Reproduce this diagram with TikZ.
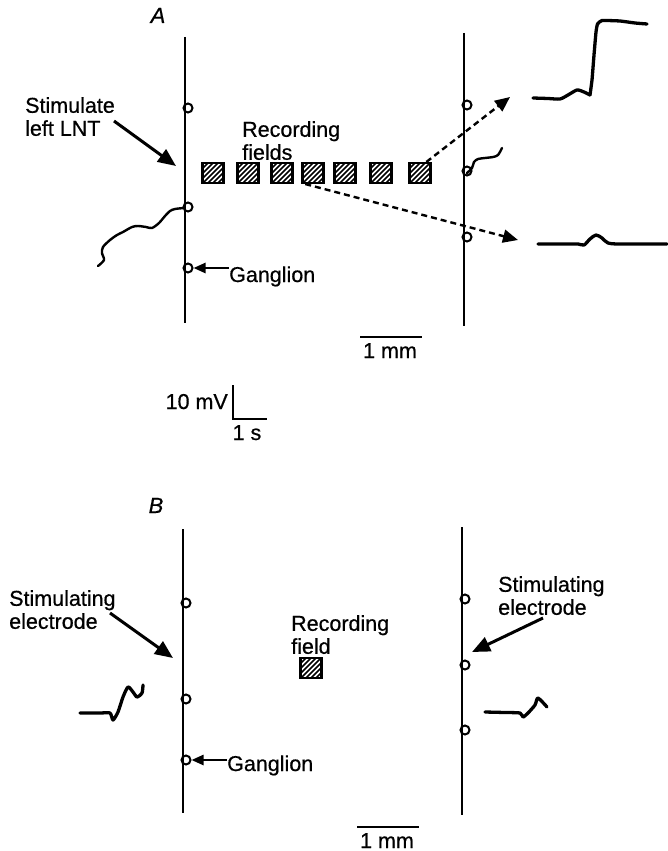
\documentclass[tikz,border=0pt]{standalone}
\usepackage{fontspec}
\setmainfont{Liberation Sans}[FakeBold=0.6]
\usetikzlibrary{arrows.meta}
\begin{document}
\begin{tikzpicture}[x=1pt,y=-1pt,
  lbl/.style={inner sep=0pt, align=left, font=\fontsize{21.5}{23}\selectfont},
  panel/.style={inner sep=0pt, font=\fontsize{22}{24}\selectfont\itshape},
  nerve/.style={line width=2.4pt},
  elec/.style={circle, draw, line width=2pt, minimum size=9pt, inner sep=0pt},
  field/.style={draw, line width=2.1pt, minimum width=21pt, minimum height=20pt, inner sep=0pt,
    path picture={\begin{scope}[shift={(path picture bounding box.center)}]
      \foreach \k in {-25,-20,...,25}{\draw[line width=1.5pt] ({\k-12},12) -- ({\k+12},-12);}
    \end{scope}}},
  bigarrow/.style={line width=3pt, -{Triangle[length=18pt,width=15pt]}},
  smallarrow/.style={line width=2.4pt, -{Triangle[length=12pt,width=10pt]}},
  dasharrow/.style={line width=2.4pt, dash pattern=on 6pt off 4pt, -{Triangle[length=15pt,width=13pt]}},
  trace/.style={line width=3.3pt, line join=round, line cap=round},
  scalebar/.style={line width=2.4pt},
]
\useasboundingbox (0,0) rectangle (667,851);

% ---------------- Panel A ----------------
\node[panel, anchor=base] (labA) at (158,23) {A};

\coordinate (LAt) at (185,37); \coordinate (LAb) at (185,323);
\draw[nerve] (LAt) -- (LAb);
\node[elec] (a1) at (188,108) {};
\node[elec] (a2) at (188,207) {};
\node[elec] (a3) at (188,268) {};

\coordinate (RAt) at (464,33); \coordinate (RAb) at (464,326);
\draw[nerve] (RAt) -- (RAb);
\node[elec] (b1) at (467,105) {};
\node[elec] (b2) at (467,171) {};
\node[elec] (b3) at (467,237) {};

\node[lbl, anchor=north west] (stimA) at (25,97) {Stimulate\\left LNT};
\coordinate (sAs) at (114,121); \coordinate (sAe) at (176,166);
\draw[bigarrow] (sAs) -- (sAe);

\node[lbl, anchor=north west] (recA) at (242,121) {Recording\\fields};
\node[field] (f1) at (213,173) {};
\node[field] (f2) at (248,173) {};
\node[field] (f3) at (282,173) {};
\node[field] (f4) at (313,173) {};
\node[field] (f5) at (345,173) {};
\node[field] (f6) at (381,173) {};
\node[field] (f7) at (420,173) {};

\coordinate (tA1) at (510,97); \coordinate (tA2) at (518,240);
\draw[dasharrow] (f7.60) -- (tA1);
\draw[dasharrow] (f4.235) -- (tA2);

\node[lbl, anchor=base west] (gA) at (229,282) {Ganglion};
\draw[smallarrow] (gA.west |- a3) -- (a3);

% traces A
\draw[trace] plot[smooth, tension=0.4] coordinates {(533,98) (548,98.5) (560,99) (568,95) (577,90) (584,92) (590,95)};
\draw[trace] plot[smooth, tension=0.25] coordinates {(590,95) (592,80) (594,55) (596,32) (597.5,24) (602,20.5) (620,21) (635,23) (647,24)};
\draw[trace] plot[smooth, tension=0.5] coordinates {(538,244) (560,244) (578,244) (584,245) (590,239) (596,235) (602,238) (608,243) (620,244) (667,244)};
\draw[trace, line width=2.4pt] plot[smooth, tension=0.5] coordinates {(467,173) (472,168) (474,162) (478,159) (485,158) (493,157) (498,155) (502,148)};
\draw[trace, line width=2.4pt] plot[smooth, tension=0.5] coordinates {(184,208) (175,209) (170,211) (165,216) (159,223) (152,228) (146,227) (138,226) (132,227) (123,232) (117,235) (110,240) (103,247) (102,253) (104,260) (98,266)};

% scale bars A
\coordinate (mA1) at (360,337); \coordinate (mA2) at (422,337);
\draw[scalebar] (mA1) -- (mA2);
\node[lbl, anchor=base] (mmA) at (390,358) {1 mm};

\node[lbl, anchor=base east] (mv) at (228,409) {10 mV};
\node[lbl, anchor=base] (sec) at (247,440) {1 s};
\coordinate (v1) at (233,385); \coordinate (v2) at (233,419); \coordinate (v3) at (267,419);
\draw[scalebar] (v1) -- (v2) -- (v3);

% ---------------- Panel B ----------------
\node[panel, anchor=base] (labB) at (156,513) {B};

\coordinate (LBt) at (183,529); \coordinate (LBb) at (183,813);
\draw[nerve] (LBt) -- (LBb);
\node[elec] (c1) at (186,603) {};
\node[elec] (c2) at (186,699) {};
\node[elec] (c3) at (186,760) {};

\coordinate (RBt) at (462,527); \coordinate (RBb) at (462,815);
\draw[nerve] (RBt) -- (RBb);
\node[elec] (d1) at (465,599) {};
\node[elec] (d2) at (465,665) {};
\node[elec] (d3) at (465,730) {};

\node[lbl, anchor=north west] (stimBL) at (9,590) {Stimulating\\electrode};
\coordinate (sBs) at (110,613); \coordinate (sBe) at (173,658);
\draw[bigarrow] (sBs) -- (sBe);

\node[lbl, anchor=north west] (recB) at (291,615) {Recording\\field};
\node[field] (fB) at (311,668) {};

\node[lbl, anchor=north west] (stimBR) at (498,576) {Stimulating\\electrode};
\coordinate (sCs) at (543,618); \coordinate (sCe) at (472,652);
\draw[bigarrow] (sCs) -- (sCe);

\node[lbl, anchor=base west] (gB) at (227,771) {Ganglion};
\draw[smallarrow] (gB.west |- c3) -- (c3);

% traces B
\draw[trace] plot[smooth, tension=0.4] coordinates {(80,713) (100,713) (110,713) (113,720) (118,712) (123,697) (128,687) (133,692) (137,697) (142,693) (143,685)};
\draw[trace] plot[smooth, tension=0.4] coordinates {(485,712) (505,712.5) (520,713) (523,717) (528,713) (535,705) (538,698) (547,707)};

% scale bar B
\coordinate (mB1) at (357,827); \coordinate (mB2) at (419,827);
\draw[scalebar] (mB1) -- (mB2);
\node[lbl, anchor=base] (mmB) at (387,848) {1 mm};
\end{tikzpicture}
\end{document}
